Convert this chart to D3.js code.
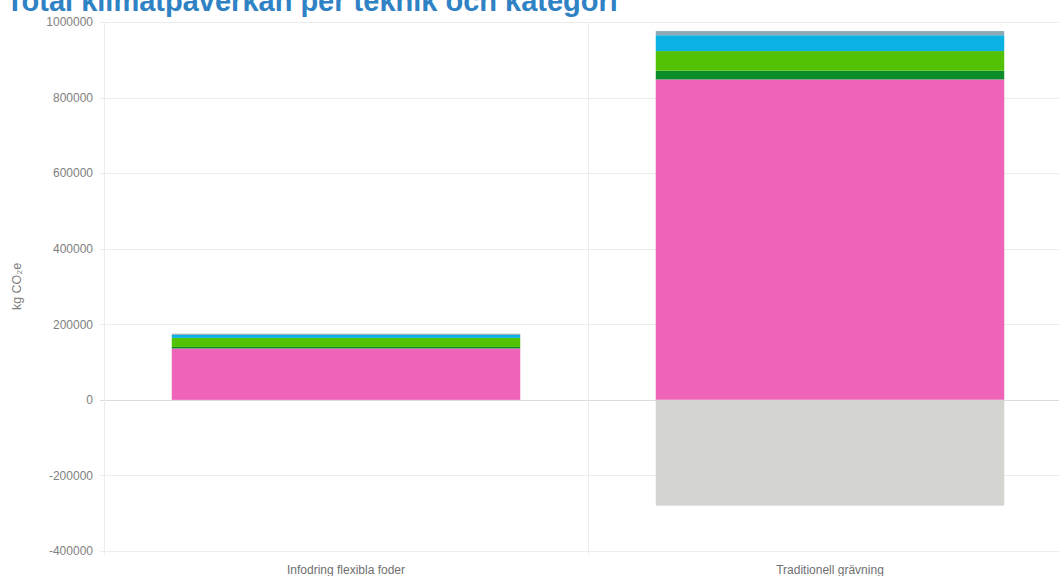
<!DOCTYPE html>
<html lang="sv">
<head>
<meta charset="UTF-8">
<title>Total klimatpåverkan per teknik och kategori</title>
<script src="https://cdn.jsdelivr.net/npm/d3@7"></script>
<style>
  html, body { margin: 0; padding: 0; background: #fff; overflow: hidden; }
  svg { display: block; font-family: "Liberation Sans", Arial, sans-serif; }
</style>
</head>
<body>
<div id="chart"></div>
<script>
// data
var techniques = ['Infodring flexibla foder', 'Traditionell grävning'];
var seriesNames = ['Kategori A', 'Kategori B', 'Kategori C', 'Kategori D', 'Kategori E', 'Kategori F'];
var seriesColors = ['#ef63b9', '#0b8d2c', '#54c204', '#0ab1e2', '#8ea9b6', '#d4d5d1'];
var valuesA = [136000, 848000];   // pink
var valuesB = [4000, 23000];      // dark green
var valuesC = [24000, 52000];     // green
var valuesD = [8000, 42000];      // light blue
var valuesE = [3000, 11000];      // grey blue
var valuesF = [0, -280000];       // negative, grey
var yTicks = [-400000, -200000, 0, 200000, 400000, 600000, 800000, 1000000];

var width = 1059, height = 576;
var margin = { top: 22, right: -13, bottom: 25, left: 104 };

var svg = d3.select('#chart').append('svg')
  .attr('width', width)
  .attr('height', height);

var allSeries = [valuesA, valuesB, valuesC, valuesD, valuesE, valuesF];
var rows = techniques.map(function(t, i) {
  var r = { tech: t };
  seriesNames.forEach(function(s, j) { r[s] = allSeries[j][i]; });
  return r;
});

var stacked = d3.stack()
  .keys(seriesNames)
  .offset(d3.stackOffsetDiverging)(rows);

var x = d3.scaleBand()
  .domain(techniques)
  .range([margin.left, width - margin.right])
  .paddingInner(0)
  .paddingOuter(0);

var y = d3.scaleLinear()
  .domain([-400000, 1000000])
  .range([height - margin.bottom, margin.top]);

// grid
svg.append('g').selectAll('line')
  .data(yTicks).enter().append('line')
  .attr('x1', margin.left - 4).attr('x2', width)
  .attr('y1', function(d) { return Math.round(y(d)) + 0.5; })
  .attr('y2', function(d) { return Math.round(y(d)) + 0.5; })
  .attr('stroke', function(d) { return d === 0 ? '#dcdcdc' : '#ececec'; })
  .attr('stroke-width', 1);

svg.append('g').selectAll('line')
  .data(techniques).enter().append('line')
  .attr('x1', function(d) { return x(d) + 0.5; })
  .attr('x2', function(d) { return x(d) + 0.5; })
  .attr('y1', margin.top)
  .attr('y2', height - margin.bottom + 4)
  .attr('stroke', '#ececec');

// bars
var inset = x.bandwidth() * 0.14;
svg.append('g').selectAll('g')
  .data(stacked).enter().append('g')
  .attr('fill', function(d, i) { return seriesColors[i]; })
  .selectAll('rect')
  .data(function(d) { return d; })
  .enter().append('rect')
  .attr('x', function(d) { return x(d.data.tech) + inset; })
  .attr('width', x.bandwidth() - 2 * inset)
  .attr('y', function(d) { return y(Math.max(d[0], d[1])); })
  .attr('height', function(d) { return Math.abs(y(d[0]) - y(d[1])); });

// y axis
var yAxis = d3.axisLeft(y).tickValues(yTicks)
  .tickFormat(function(d) { return String(d); })
  .tickSize(0).tickPadding(11);
var gy = svg.append('g')
  .attr('transform', 'translate(' + margin.left + ',0)')
  .call(yAxis);
gy.select('.domain').remove();
gy.selectAll('text').attr('fill', '#808080').style('font-size', '12px');

// x axis
var xAxis = d3.axisBottom(x).tickSize(0).tickPadding(14);
var gx = svg.append('g')
  .attr('transform', 'translate(0,' + (height - margin.bottom) + ')')
  .call(xAxis);
gx.select('.domain').remove();
gx.selectAll('text').attr('fill', '#707070').style('font-size', '12px');

// y axis title
svg.append('text')
  .attr('transform', 'translate(21,' + y(300000) + ') rotate(-90)')
  .attr('text-anchor', 'middle')
  .attr('fill', '#808080')
  .style('font-size', '12.5px')
  .text('kg CO₂e');

// title (top cut off, as in the original)
svg.append('text')
  .attr('x', 6)
  .attr('y', 11)
  .attr('fill', '#2f82c4')
  .style('font-size', '29px')
  .style('font-weight', 'bold')
  .text('Total klimatpåverkan per teknik och kategori');
</script>
</body>
</html>
